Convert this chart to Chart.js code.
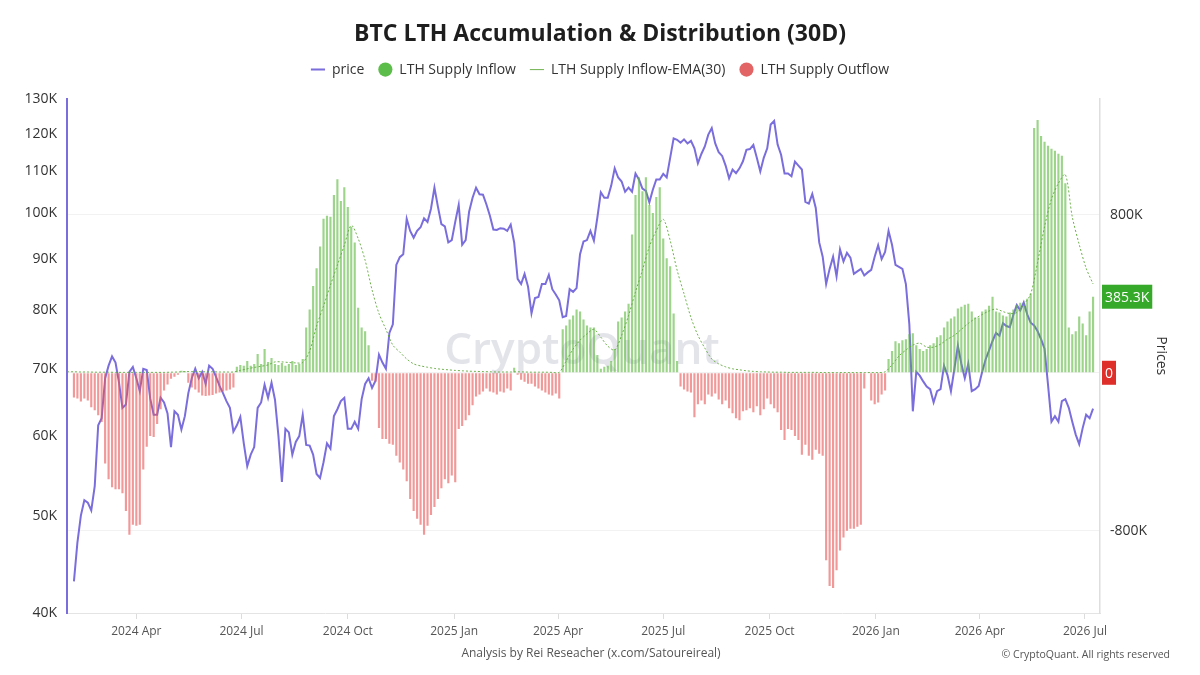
<!DOCTYPE html>
<html>
<head>
<meta charset="utf-8">
<script src="https://cdn.jsdelivr.net/npm/chart.js@4.4.1/dist/chart.umd.min.js"></script>
<style>
  html, body { margin: 0; padding: 0; background: #ffffff; }
  #wrap { width: 1200px; height: 675px; position: relative; }
</style>
</head>
<body>
<div id="wrap"><canvas id="c" width="1200" height="675"></canvas></div>
<script>
// ---------------- DATA ----------------
const startDate = '2024-02-01';   // date of sample index 0
const stepDays = 3;               // spacing of price / flow samples (days)
const emaStepDays = 6;            // spacing of EMA samples (days)

// BTC price, thousands of USD
const price = [null, null,
  43.0, 47.0, 50.0, 51.8, 51.5, 50.6, 53.5, 61.5, 62.5, 68.5,
  70.5, 72.0, 71.0, 67.8, 64.0, 64.5, 69.5, 70.3, 68.5, 66.5,
  70.0, 69.8, 65.4, 63.0, 63.0, 65.5, 64.8, 63.2, 58.5, 63.5,
  63.0, 60.9, 62.8, 66.2, 68.5, 70.0, 68.5, 69.5, 67.6, 70.5,
  70.0, 68.7, 67.3, 66.2, 65.0, 64.0, 60.6, 61.5, 62.7, 59.0,
  56.0, 57.5, 58.5, 64.0, 64.8, 67.5, 65.5, 67.8, 65.2, 60.0,
  54.0, 61.0, 60.5, 57.5, 59.2, 60.0, 63.0, 58.8, 58.7, 57.5,
  55.0, 54.5, 56.5, 59.0, 58.3, 62.8, 63.8, 65.0, 65.5, 61.0,
  61.0, 62.0, 61.0, 65.3, 67.6, 68.5, 67.0, 68.1, 72.3, 71.0,
  70.0, 76.0, 77.5, 88.8, 90.4, 91.0, 98.7, 96.0, 94.5, 96.0,
  96.8, 98.8, 98.0, 101.0, 106.0, 101.5, 97.5, 97.0, 93.5, 94.0,
  98.0, 101.9, 93.0, 94.0, 100.3, 103.6, 106.0, 104.4, 104.3, 102.0,
  99.4, 96.3, 96.2, 96.6, 96.5, 96.0, 97.4, 93.5, 86.0, 85.0,
  87.0, 84.5, 79.5, 82.3, 82.5, 85.0, 85.0, 86.8, 84.0, 83.0,
  81.9, 78.8, 79.0, 84.0, 83.5, 84.2, 91.0, 93.7, 94.0, 96.0,
  93.9, 99.0, 104.9, 103.6, 103.6, 106.5, 110.8, 108.5, 107.5, 105.0,
  106.0, 105.0, 109.5, 108.0, 105.8, 105.2, 102.5, 105.5, 108.0, 108.0,
  109.4, 108.5, 113.5, 118.7, 118.3, 117.5, 118.4, 117.3, 118.0, 116.0,
  112.1, 114.5, 116.5, 119.7, 121.5, 117.3, 115.0, 114.0, 111.5, 108.3,
  110.5, 109.6, 110.8, 112.6, 115.6, 115.8, 116.9, 113.5, 110.0, 113.5,
  116.0, 122.5, 123.5, 117.0, 114.3, 109.5, 109.5, 108.8, 112.5, 111.5,
  110.5, 102.6, 102.2, 104.5, 101.2, 93.5, 90.5, 85.0, 88.0, 90.5,
  86.5, 92.0, 89.5, 91.3, 90.3, 87.0, 87.5, 88.0, 86.7, 87.3,
  87.8, 90.5, 92.9, 90.0, 91.5, 96.0, 93.0, 88.8, 88.4, 88.0,
  85.0, 77.5, 63.5, 69.5, 68.9, 68.0, 67.2, 66.8, 64.8, 66.5,
  66.8, 70.5, 69.0, 66.5, 70.0, 73.8, 70.8, 68.5, 70.8, 66.5,
  66.8, 67.3, 69.5, 71.5, 73.0, 74.6, 76.0, 75.5, 77.7, 77.2,
  77.0, 79.2, 81.0, 80.0, 81.5, 79.3, 77.8, 77.3, 76.3, 74.9,
  73.3, 67.5, 62.0, 62.8, 62.0, 65.0, 65.3, 64.0, 62.0, 60.2,
  58.9, 61.1, 63.0, 62.5, 63.9
];

// LTH supply net change (30D), thousands of BTC: positive = inflow, negative = outflow
const netFlow = [null, null,
  -125, -130, -145, -130, -140, -175, -190, -215, -250, -460,
  -540, -580, -590, -590, -610, -700, -820, -770, -775, -770,
  -490, -375, -320, -325, -260, -185, -90, -60, -30, -20,
  -10, 10, 8, -50, -75, -85, -100, -115, -118, -115,
  -112, -105, -100, -95, -90, -85, -75, 30, 40, 35,
  60, 35, 45, 95, 45, 120, 55, 75, 45, 40,
  50, 35, 45, 60, 40, 45, 70, 230, 320, 440,
  530, 640, 780, 795, 790, 900, 980, 870, 940, 840,
  740, 660, 330, 230, 210, 140, -40, -45, -280, -335,
  -335, -360, -365, -420, -455, -490, -550, -640, -700, -740,
  -770, -820, -775, -720, -680, -640, -585, -540, -560, -520,
  -555, -285, -270, -240, -215, -165, -120, -110, -95, -80,
  -95, -100, -110, -95, -100, -80, -90, 25, -10, -35,
  -45, -55, -55, -70, -80, -90, -100, -110, -115, -105,
  -130, 220, 240, 270, 290, 320, 310, 270, 240, 230,
  230, 90, 20, 30, 35, 60, 120, 260, 280, 310,
  350, 700, 900, 990, 920, 990, 850, 810, 890, 940,
  680, 580, 540, 300, 60, -70, -85, -95, -100, -225,
  -160, -140, -160, -110, -120, -105, -135, -160, -140, -180,
  -205, -230, -240, -195, -190, -180, -200, -170, -215, -185,
  -130, -160, -180, -200, -290, -340, -285, -290, -320, -340,
  -415, -365, -420, -440, -390, -410, -420, -950, -1080, -1090,
  -1000, -900, -835, -800, -790, -790, -780, -770, -80, 0,
  -140, -160, -150, -110, -90, 70, 110, 160, 150, 165,
  170, 195, 200, 140, 120, 110, 120, 140, 150, 180,
  190, 230, 260, 275, 285, 325, 335, 345, 350, 310,
  280, 280, 310, 320, 340, 385, 310, 305, 290, 285,
  305, 320, 345, 355, 340, 375, 400, 1240, 1280, 1200,
  1170, 1150, 1135, 1125, 1110, 1100, 960, 230, 195, 210,
  285, 250, 190, 310, 385.3
];

// LTH Supply Inflow EMA(30), thousands of BTC
const ema30 = [
  5, 5, 4, 4, 3, 3, 3, 2, 2, 2,
  2, 2, 2, 2, 2, 3, 4, 6, 6, 6,
  5, 5, 4, 4, 4, 12, 20, 27, 33, 40,
  55, 55, 52, 50, 52, 110, 237, 338, 444, 545,
  646, 747, 680, 570, 420, 300, 220, 140, 105, 70,
  45, 35, 28, 22, 18, 15, 12, 10, 8, 7,
  6, 5, 4, 4, 4, 5, 4, 3, 3, 3,
  2, 2, 60, 120, 165, 197, 220, 180, 135, 115,
  190, 290, 410, 520, 640, 720, 778, 670, 520, 400,
  280, 190, 125, 70, 45, 30, 20, 15, 10, 7,
  5, 4, 3, 3, 2, 2, 2, 2, 2, 1,
  1, 1, 1, 1, 1, 1, 1, 1, 5, 40,
  85, 115, 140, 150, 130, 130, 145, 170, 190, 220,
  250, 275, 295, 313, 323, 310, 300, 305, 345, 400,
  560, 740, 880, 960, 1005, 790, 650, 530, 450
];

const tickDates  = ['2024-04-01', '2024-07-01', '2024-10-01', '2025-01-01', '2025-04-01',
                    '2025-07-01', '2025-10-01', '2026-01-01', '2026-04-01', '2026-07-01'];
const tickLabels = ['2024 Apr', '2024 Jul', '2024 Oct', '2025 Jan', '2025 Apr',
                    '2025 Jul', '2025 Oct', '2026 Jan', '2026 Apr', '2026 Jul'];
const priceTicks = [40, 50, 60, 70, 80, 90, 100, 110, 120, 130];
const flowTicks  = [-800, 0, 800];

// ---------------- BUILD ----------------
const FONT = "'Open Sans', 'Noto Sans', 'DejaVu Sans', sans-serif";
const DAY = 86400000;
const dayOf = s => (Date.parse(s) - Date.parse(startDate)) / DAY;
const tickDays = tickDates.map(dayOf);

const priceData   = price.map((v, i) => ({ x: i * stepDays, y: v }));
const inflowData  = netFlow.map((v, i) => ({ x: i * stepDays, y: v == null ? null : (v > 0 ? v : 0) }));
const outflowData = netFlow.map((v, i) => ({ x: i * stepDays, y: v == null ? null : (v < 0 ? v : 0) }));
const emaData     = ema30.map((v, i) => ({ x: i * emaStepDays, y: v }));

const lastOf = arr => { for (let i = arr.length - 1; i >= 0; i--) if (arr[i].y != null) return arr[i].y; return 0; };
const fmtK = v => (v === 0 ? '0' : (Math.round(v * 10) / 10).toFixed(1) + 'K');

const COLORS = {
  price: '#7a6ddc',
  inflow: 'rgba(96, 186, 66, 0.62)',
  inflowLegend: '#5cbd4a',
  outflow: 'rgba(232, 88, 88, 0.62)',
  outflowLegend: '#e36464',
  ema: 'rgba(96, 170, 60, 0.9)'
};

const decor = {
  id: 'decor',
  beforeLayout(chart) {
    const lg = chart.legend;
    if (lg && !lg._gapPatched) {
      const f = lg.fit;
      lg.fit = function () { f.call(this); this.height += 12; };
      lg._gapPatched = true;
    }
  },
  beforeDatasetsDraw(chart) {
    const ctx = chart.ctx;
    ctx.save();
    ctx.font = `600 44px ${FONT}`;
    ctx.fillStyle = 'rgba(200, 202, 214, 0.5)';
    ctx.textAlign = 'center';
    ctx.textBaseline = 'alphabetic';
    ctx.fillText('CryptoQuant', 582, 364);
    ctx.restore();
  },
  afterDraw(chart) {
    const ctx = chart.ctx;
    const y2 = chart.scales.y2;
    const area = chart.chartArea;
    ctx.save();
    // value badges on right axis
    const badges = [
      { v: lastOf(inflowData), c: '#36a82a' },
      { v: lastOf(outflowData), c: '#de2f2a' }
    ];
    ctx.font = `14px ${FONT}`;
    ctx.textBaseline = 'middle';
    ctx.textAlign = 'left';
    badges.forEach(b => {
      const t = fmtK(b.v);
      const w = ctx.measureText(t).width + 6;
      const yy = y2.getPixelForValue(b.v);
      ctx.fillStyle = b.c;
      ctx.fillRect(area.right + 2, yy - 12, w, 24);
      ctx.fillStyle = '#ffffff';
      ctx.fillText(t, area.right + 5, yy + 1);
    });
    // footer texts
    ctx.fillStyle = '#555';
    ctx.font = `12px ${FONT}`;
    ctx.textAlign = 'center';
    ctx.fillText('Analysis by Rei Reseacher (x.com/Satoureireal)', 591, 654);
    ctx.font = `10.5px ${FONT}`;
    ctx.textAlign = 'right';
    ctx.fillText('© CryptoQuant. All rights reserved', 1170, 655);
    ctx.restore();
  }
};

const chart = new Chart(document.getElementById('c'), {
  type: 'bar',
  data: {
    datasets: [
      {
        type: 'line', label: 'price', data: priceData, yAxisID: 'y',
        borderColor: COLORS.price, backgroundColor: COLORS.price, borderWidth: 2,
        pointRadius: 0, pointStyle: 'line', tension: 0, order: 3
      },
      {
        type: 'bar', label: 'LTH Supply Inflow', data: inflowData, yAxisID: 'y2',
        backgroundColor: COLORS.inflow, legendColor: COLORS.inflowLegend, borderWidth: 0,
        grouped: false, barPercentage: 1.0, categoryPercentage: 0.62, order: 2
      },
      {
        type: 'line', label: 'LTH Supply Inflow-EMA(30)', data: emaData, yAxisID: 'y2',
        borderColor: COLORS.ema, backgroundColor: COLORS.ema, borderWidth: 1, borderDash: [2, 2],
        pointRadius: 0, pointStyle: 'line', tension: 0.3, order: 1
      },
      {
        type: 'bar', label: 'LTH Supply Outflow', data: outflowData, yAxisID: 'y2',
        backgroundColor: COLORS.outflow, legendColor: COLORS.outflowLegend, borderWidth: 0,
        grouped: false, barPercentage: 1.0, categoryPercentage: 0.62, order: 2
      }
    ]
  },
  options: {
    responsive: false,
    animation: false,
    devicePixelRatio: 1,
    layout: { padding: { left: 0, right: 0, top: 0, bottom: 0 } },
    plugins: {
      tooltip: { enabled: false },
      title: {
        display: true,
        text: 'BTC LTH Accumulation & Distribution (30D)',
        color: '#1e1e1e',
        font: { family: FONT, size: 23, weight: 'bold' },
        padding: { top: 21, bottom: 0 }
      },
      legend: {
        display: true,
        position: 'top',
        labels: {
          usePointStyle: true,
          boxHeight: 10,
          padding: 14,
          color: '#333',
          font: { family: FONT, size: 14 },
          sort: (a, b) => a.datasetIndex - b.datasetIndex,
          generateLabels(chart) {
            const items = Chart.defaults.plugins.legend.labels.generateLabels(chart);
            items.forEach(it => {
              const ds = chart.data.datasets[it.datasetIndex];
              if (ds.legendColor) { it.fillStyle = ds.legendColor; it.strokeStyle = ds.legendColor; it.lineWidth = 0; }
            });
            return items;
          }
        }
      }
    },
    scales: {
      x: {
        type: 'linear',
        offset: false,
        min: 0, max: 894,
        afterBuildTicks: s => { s.ticks = tickDays.map(v => ({ value: v })); },
        afterFit: s => { s.height = 62; },
        ticks: {
          autoSkip: false, maxRotation: 0, minRotation: 0,
          color: '#555', font: { family: FONT, size: 12 }, padding: 5,
          callback: (v, i) => tickLabels[i]
        },
        grid: { offset: false, drawOnChartArea: false, drawTicks: true, tickLength: 6, color: '#dcdcdc' },
        border: { color: '#e4e4e4' }
      },
      y: {
        type: 'logarithmic',
        position: 'left',
        min: 40, max: 130,
        afterBuildTicks: s => { s.ticks = priceTicks.map(v => ({ value: v })); },
        afterFit: s => { s.width = 67; },
        ticks: { color: '#333', font: { family: FONT, size: 14 }, padding: 10, callback: v => v + 'K' },
        grid: { display: false, drawTicks: false },
        border: { color: COLORS.price, width: 2 }
      },
      y2: {
        type: 'linear',
        position: 'right',
        min: -1217, max: 1389,
        afterBuildTicks: s => { s.ticks = flowTicks.map(v => ({ value: v })); },
        afterFit: s => { s.width = 100; },
        ticks: { color: '#333', font: { family: FONT, size: 14 }, padding: 10, callback: v => (v === 0 ? '' : v + 'K') },
        grid: { color: 'rgba(0,0,0,0.05)', drawTicks: false },
        border: { color: '#dedede', width: 1.5 },
        title: { display: true, text: 'Prices', color: '#333', font: { family: FONT, size: 14 }, padding: { top: 31, bottom: 0 } }
      }
    }
  },
  plugins: [decor]
});
</script>
</body>
</html>
